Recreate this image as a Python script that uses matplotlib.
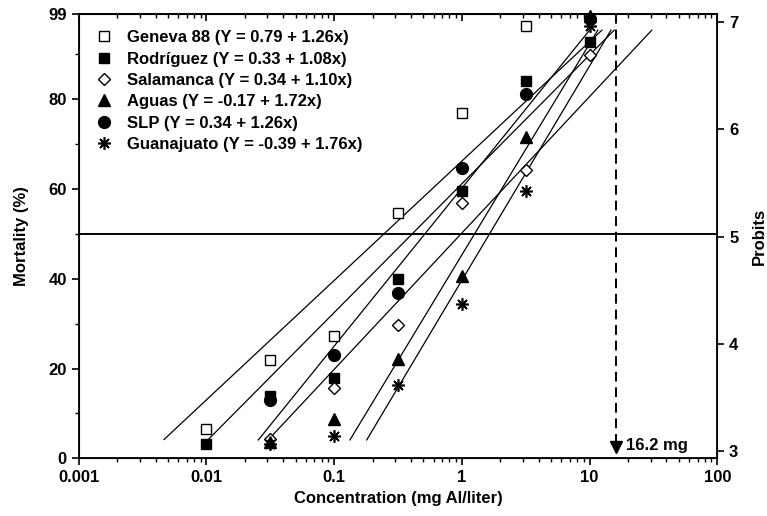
import numpy as np
import matplotlib
matplotlib.use("Agg")
import matplotlib.pyplot as plt

matplotlib.rcParams['font.family'] = 'Liberation Sans'
matplotlib.rcParams['font.weight'] = 'bold'
fontsize = 12

# concentrations tested (mg Al/liter)
conc = [0.01, 0.0316, 0.1, 0.316, 1.0, 3.16, 10.0]
nan = np.nan

# observed mortality (%) per population
geneva = [6.5, 21.8, 27.2, 54.7, 77.0, 96.3, nan]
rodriguez = [3.3, 13.9, 17.9, 40.0, 59.5, 84.1, 92.8]
salamanca = [nan, 4.4, 15.6, 29.8, 56.9, 64.3, 89.8]
aguas = [nan, 3.7, 8.7, 22.2, 40.7, 71.5, 98.5]
slp = [nan, 13.0, 23.1, 36.8, 64.7, 81.2, 97.8]
guanajuato = [nan, 3.3, 5.0, 16.3, 34.3, 59.6, 96.3]

labels = ["Geneva 88 (Y = 0.79 + 1.26x)",
          "Rodríguez (Y = 0.33 + 1.08x)",
          "Salamanca (Y = 0.34 + 1.10x)",
          "Aguas (Y = -0.17 + 1.72x)",
          "SLP (Y = 0.34 + 1.26x)",
          "Guanajuato (Y = -0.39 + 1.76x)"]

# fitted lines: concentration at low / high end
line_lo_conc = [0.00466, 0.01035, 0.0309, 0.133, 0.0255, 0.180]
line_hi_conc = [12.5, 15.6, 30.7, 11.6, 10.0, 14.7]
line_lo_mort = [4.2, 4.2, 4.3, 4.1, 4.1, 4.1]
line_hi_mort = [95.4, 95.4, 95.4, 95.4, 95.4, 95.4]

lc50 = 16.2

series = [geneva, rodriguez, salamanca, aguas, slp, guanajuato]
styles = [
    dict(marker='s', mfc='white', mec='black', ms=7.5),
    dict(marker='s', mfc='black', mec='black', ms=7.5),
    dict(marker='D', mfc='white', mec='black', ms=6.5),
    dict(marker='^', mfc='black', mec='black', ms=8.5),
    dict(marker='o', mfc='black', mec='black', ms=8.5),
    dict(marker=(8, 2, 0), mfc='black', mec='black', ms=9, mew=1.2),
]

fig = plt.figure(figsize=(7.67, 5.16), dpi=100)
ax = fig.add_axes([0.1026, 0.1118, 0.8326, 0.8611])

for i in range(len(series)):
    ax.plot(conc, series[i], linestyle='none', label=labels[i], clip_on=False,
            zorder=4, **styles[i])
    ax.plot([line_lo_conc[i], line_hi_conc[i]], [line_lo_mort[i], line_hi_mort[i]],
            color='black', lw=0.9, zorder=3)

ax.axhline(50, color='black', lw=1.4, zorder=2)

# dashed arrow down to the 16.2 mg estimate
ax.plot([lc50, lc50], [99, 3.5], color='black', lw=1.4, ls=(0, (5, 3)), zorder=3)
ax.plot([lc50], [2.5], marker='v', color='black', ms=8, zorder=3)
ax.text(lc50 * 1.2, 2.9, "16.2 mg", fontsize=fontsize, fontweight='bold', va='center')

ax.set_xscale('log')
ax.set_xlim(0.001, 100)
ax.set_ylim(0, 99)
ax.set_yticks([0, 20, 40, 60, 80, 99])
ax.set_yticks([10, 30, 50, 70, 90], minor=True)
ax.set_xticks([0.001, 0.01, 0.1, 1, 10, 100])
ax.set_xticklabels(["0.001", "0.01", "0.1", "1", "10", "100"])
ax.tick_params(axis='both', which='major', labelsize=fontsize, length=5, width=1.2)
ax.tick_params(axis='both', which='minor', length=3, width=1)
for s in ax.spines.values():
    s.set_linewidth(1.3)
ax.set_xlabel("Concentration (mg Al/liter)", fontsize=fontsize, fontweight='bold', labelpad=4)
ax.set_ylabel("Mortality (%)", fontsize=fontsize, fontweight='bold', labelpad=14)

# top axis: inward ticks, no labels
top = ax.secondary_xaxis('top')
top.set_xticks([0.001, 0.01, 0.1, 1, 10, 100])
top.tick_params(which='major', direction='in', length=5, width=1.2, labeltop=False)
top.tick_params(which='minor', direction='in', length=3, width=1)
top.spines['top'].set_linewidth(1.3)

ax2 = ax.twinx()
ax2.set_ylim(2.929, 7.078)
ax2.set_yticks([3, 4, 5, 6, 7])
ax2.tick_params(labelsize=fontsize, length=5, width=1.2)
ax2.set_ylabel("Probits", fontsize=fontsize, fontweight='bold', labelpad=10)

ax.legend(loc='upper left', bbox_to_anchor=(0.0, 0.997), frameon=False,
          handlelength=1.2, handletextpad=0.8, labelspacing=0.38,
          prop=dict(weight='bold', size=fontsize))

fig.savefig("out.png", dpi=100)
